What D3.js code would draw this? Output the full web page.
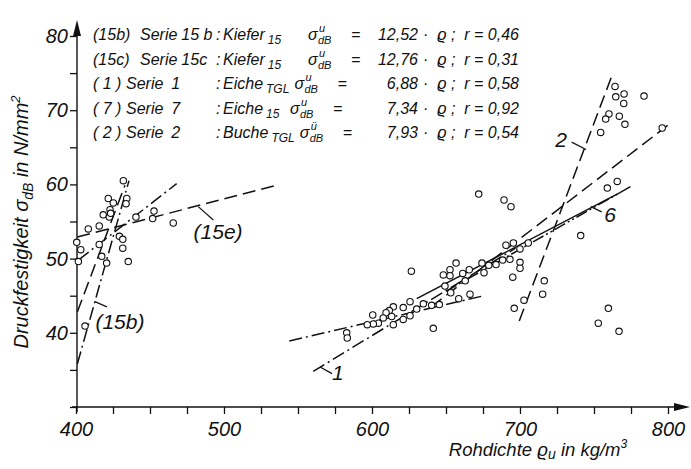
<!DOCTYPE html>
<html><head><meta charset="utf-8">
<script src="https://cdn.jsdelivr.net/npm/d3@7"></script>
<style>
html,body{margin:0;padding:0;background:#fff;}
text{font-family:"Liberation Sans","DejaVu Sans",sans-serif;font-style:italic;fill:#111;}
</style></head>
<body><svg id="c" width="691" height="469"></svg>
<script>
// ---------- data ----------
const xTickLabels = [400, 500, 600, 700, 800];
const yTickLabels = [40, 50, 60, 70, 80];

// scatter, left cluster (Kiefer)
const leftX = [432.0,421.8,434.3,425.2,433.8,423.0,418.4,422.5,423.4,440.5,452.7,451.8,465.7,408.3,415.7,400.5,403.2,401.6,415.7,417.4,420.7,429.3,431.6,431.6,435.3,406.1];
const leftY = [60.5,58.1,58.1,57.5,57.4,56.6,55.9,55.6,56.1,55.6,56.4,55.4,54.8,54.0,54.4,52.2,51.2,49.6,51.9,50.3,49.4,53.0,52.6,51.4,49.6,40.9];

// scatter, right cluster (Eiche/Buche)
const rightX = [764.2,764.7,770.3,770.1,783.8,760.1,757.9,767.1,770.9,754.5,796.1,765.7,759.0,741.0,716.4,715.3,702.7,696.1,759.7,752.9,766.9,705.6,700.0,695.5,690.5,700.0,700.0,693.2,688.3,695.1,689.2,693.9,672.1,626.6,656.8,652.7,648.2,652.7,661.3,665.7,674.3,675.7,678.9,683.8,663.0,649.3,653.2,666.2,658.6,645.5,640.3,634.7,630.2,625.7,621.1,625.7,621.1,614.4,611.7,609.5,613.3,607.6,604.3,600.5,600.9,596.8,614.4,641.4,582.9,583.3];
const rightY = [73.2,71.8,72.2,70.9,71.9,69.5,68.8,69.2,68.1,67.0,67.6,60.4,59.5,53.1,47.0,45.2,44.4,43.3,43.3,41.3,40.2,52.1,51.3,52.1,51.8,49.5,48.7,49.9,49.8,47.5,57.9,57.0,58.7,48.3,49.4,48.5,47.8,47.7,48.0,48.5,49.4,48.1,49.1,49.2,47.0,46.3,45.4,45.2,44.6,43.8,43.7,43.9,43.2,44.2,43.4,42.3,41.8,43.5,43.0,42.7,42.2,42.0,41.3,42.4,41.2,41.1,41.1,40.6,40.0,39.3];

// regression lines [x1,y1,x2,y2] in data units
const line15e   = [400.9, 52.9, 535.6, 59.9];
const line15c   = [401.6, 49.8, 468.0, 60.1];
const lineK2    = [400.9, 42.8, 433.1, 59.9];
const line15b   = [400.9, 35.8, 435.8, 60.5];
const lineSh    = [544.1, 38.9, 675.7, 45.0];
const line1     = [560.3, 34.8, 697.0, 51.4];
const line6     = [630.2, 44.6, 767.6, 58.9];
const line7     = [640.0, 43.5, 801.4, 68.2];
const lineDD    = [650.0, 45.6, 776.4, 59.9];
const line2     = [699.5, 41.6, 762.0, 74.6];

// in-plot labels: text, x, y, leader x1,y1,x2,y2
const labelText = ["(15e)", "(15b)", "1", "2", "6"];
const labelPos  = [[496.0, 53.4], [429.7, 41.3], [577.0, 34.4], [727.7, 65.8], [760.8, 55.7]];
const leaders   = [[482.6,57.0,492.8,55.2],[412.8,44.2,420.9,43.5],[564.9,35.4,573.0,34.5],[734.9,65.7,744.6,64.7],[747.8,57.0,755.2,56.3]];

// legend
const seriesKeys = ["(15b)", "(15c)", "( 1 )", "( 7 )", "( 2 )"];
const seriesWord = ["Serie", "Serie", "Serie", "Serie", "Serie"];
const seriesNums = ["15 b", "15c", "1", "7", "2"];
const species = ["Kiefer", "Kiefer", "Eiche", "Eiche", "Buche"];
const speciesSub = ["15", "15", "TGL", "15", "TGL"];
const sigmaSup = ["u", "u", "u", "u", "ü"];
const coefficients = ["12,52", "12,76", "6,88", "7,34", "7,93"];
const rValues = ["0,46", "0,31", "0,58", "0,92", "0,54"];

// ---------- drawing ----------
const svg = d3.select("#c");
const x = d3.scaleLinear().domain([400, 800]).range([76, 668]);
const y = d3.scaleLinear().domain([30, 80]).range([407, 36]);

// x axis
const xAxis = d3.axisBottom(x).tickValues(d3.range(400, 801, 25)).tickSize(7)
  .tickFormat(d => xTickLabels.includes(d) ? d : "");
const gx = svg.append("g").attr("transform", `translate(0,${y(30)})`).call(xAxis);
gx.select(".domain").remove();
gx.selectAll(".tick line").attr("stroke", "#111").attr("stroke-width", 1.3);
gx.selectAll(".tick text").attr("font-size", 20).attr("dy", "0.95em").attr("font-family", "Liberation Sans").attr("font-style", "italic").attr("fill", "#111");
svg.append("line").attr("x1", x(400) - 4).attr("x2", 680).attr("y1", y(30)).attr("y2", y(30)).attr("stroke", "#111").attr("stroke-width", 1.4);
svg.append("path").attr("d", `M690,${y(30)} L674,${y(30) - 4} L674,${y(30) + 4} Z`).attr("fill", "#111");

// y axis
const yAxis = d3.axisLeft(y).tickValues(d3.range(30, 80.1, 5)).tickSize(7)
  .tickFormat(d => yTickLabels.includes(d) ? d : "");
const gy = svg.append("g").attr("transform", `translate(${x(400) + 1},0)`).call(yAxis);
gy.select(".domain").remove();
gy.selectAll(".tick line").attr("stroke", "#111").attr("stroke-width", 1.3);
gy.selectAll(".tick text").attr("font-size", 20).attr("x", -9).attr("font-family", "Liberation Sans").attr("font-style", "italic").attr("fill", "#111");
svg.append("line").attr("x1", x(400) + 1).attr("x2", x(400) + 1).attr("y1", y(30) + 5).attr("y2", 32).attr("stroke", "#111").attr("stroke-width", 1.4);
svg.append("path").attr("d", `M${x(400) + 1},20 L${x(400) - 3},36 L${x(400) + 5},36 Z`).attr("fill", "#111");

// axis titles
const yt = svg.append("text").attr("transform", "translate(28,222) rotate(-90)").attr("text-anchor", "middle").attr("font-size", 20);
yt.append("tspan").text("Druckfestigkeit σ");
yt.append("tspan").text("dB").attr("font-size", 14).attr("dy", 5);
yt.append("tspan").text(" in N/mm").attr("dy", -5);
yt.append("tspan").text("2").attr("font-size", 13).attr("dy", -8);

const xt = svg.append("text").attr("x", 538).attr("y", 456).attr("text-anchor", "middle").attr("font-size", 18.5);
xt.append("tspan").text("Rohdichte ϱ");
xt.append("tspan").text("u").attr("font-size", 14).attr("dy", 3);
xt.append("tspan").text(" in kg/m").attr("dy", -3);
xt.append("tspan").text("3").attr("font-size", 12).attr("dy", -8);

// lines
const dashes = {
  dash: "13,6",
  dashdot: "13,4,2,4",
  dashdotdot: "12,3,2,3,2,3",
  solid: null
};
function drawLine(seg, style, w) {
  svg.append("line")
    .attr("x1", x(seg[0])).attr("y1", y(seg[1]))
    .attr("x2", x(seg[2])).attr("y2", y(seg[3]))
    .attr("stroke", "#111").attr("stroke-width", w || 1.5)
    .attr("stroke-dasharray", dashes[style]);
}
drawLine(line15e, "dash");
drawLine(line15c, "dashdot");
drawLine(lineK2, "dash");
drawLine(line15b, "dashdot");
drawLine(lineSh, "dashdot");
drawLine(line1, "dashdot");
drawLine(line6, "solid");
drawLine(line7, "dash");
drawLine(lineDD, "dashdotdot");
drawLine(line2, "dash");

// leaders + labels
leaders.forEach(l => drawLine(l, "solid", 1.2));
labelText.forEach((t, i) => {
  svg.append("text").attr("x", x(labelPos[i][0])).attr("y", y(labelPos[i][1]))
    .attr("text-anchor", "middle").attr("dominant-baseline", "middle")
    .attr("font-size", 21).text(t);
});

// points
function drawPts(xs, ys) {
  svg.append("g").selectAll("circle").data(xs).join("circle")
    .attr("cx", (d) => x(d)).attr("cy", (d, i) => y(ys[i])).attr("r", 3.2)
    .attr("fill", "#fff").attr("stroke", "#111").attr("stroke-width", 1.1);
}
drawPts(leftX, leftY);
drawPts(rightX, rightY);

// legend
const baseY = 40, step = 24.5, fs = 16;
const sigmaCol = [308, 308, 290, 290, 293];
seriesKeys.forEach((k, i) => {
  const by = baseY + i * step;
  const g = svg.append("g");
  g.append("text").attr("x", 93).attr("y", by).attr("font-size", fs).text(k);
  const wx = i < 2 ? 140 : 126;
  const sw = g.append("text").attr("x", wx).attr("y", by).attr("font-size", fs).text(seriesWord[i]);
  const swW = sw.node().getComputedTextLength();
  g.append("text").attr("x", wx + swW + (i < 2 ? 4 : 8)).attr("y", by).attr("font-size", fs).text(seriesNums[i]);
  g.append("text").attr("x", 216).attr("y", by).attr("font-size", fs).text(":");
  const sp = g.append("text").attr("x", 223).attr("y", by).attr("font-size", fs).text(species[i]);
  const spW = sp.node().getComputedTextLength();
  const sb = g.append("text").attr("x", 223 + spW + 3).attr("y", by + 4).attr("font-size", 12).text(speciesSub[i]);
  const sbW = sb.node().getComputedTextLength();
  const sx = Math.max(sigmaCol[i], 223 + spW + sbW + 8);
  g.append("text").attr("x", sx).attr("y", by).attr("font-size", fs).text("σ");
  g.append("text").attr("x", sx + 11).attr("y", by - 8).attr("font-size", 11).text(sigmaSup[i]);
  g.append("text").attr("x", sx + 10).attr("y", by + 4).attr("font-size", 11).text("dB");
  g.append("text").attr("x", sx + 43).attr("y", by).attr("font-size", fs).text("=");
  g.append("text").attr("x", 418).attr("y", by).attr("font-size", fs).attr("text-anchor", "end").text(coefficients[i]);
  g.append("text").attr("x", 423).attr("y", by).attr("font-size", fs).attr("xml:space", "preserve").text("·  ϱ ;  r = " + rValues[i]);
});
</script></body></html>
